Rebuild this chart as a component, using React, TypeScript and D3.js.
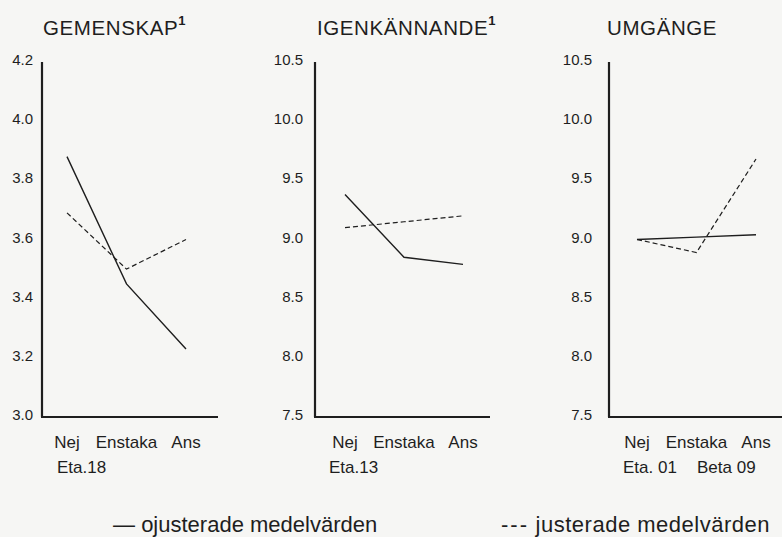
import React from "react";
import * as d3 from "d3";

const categories = ["Nej", "Enstaka", "Ans"];

const titles = ["GEMENSKAP", "IGENKÄNNANDE", "UMGÄNGE"];
const titleSup = ["1", "1", ""];

const gemenskapTicks = [3.0, 3.2, 3.4, 3.6, 3.8, 4.0, 4.2];
const igenTicks = [7.5, 8.0, 8.5, 9.0, 9.5, 10.0, 10.5];
const umgTicks = [7.5, 8.0, 8.5, 9.0, 9.5, 10.0, 10.5];

const gemenskapUnadj = [3.88, 3.45, 3.23];
const gemenskapAdj = [3.69, 3.5, 3.6];
const igenUnadj = [9.38, 8.85, 8.79];
const igenAdj = [9.1, 9.15, 9.2];
const umgUnadj = [9.0, 9.02, 9.04];
const umgAdj = [9.0, 8.89, 9.68];

const subLabels = [["Eta.18"], ["Eta.13"], ["Eta. 01", "Beta 09"]];

const legendMarks = ["—", "---"];
const legendLabels = ["ojusterade medelvärden", "justerade medelvärden"];

const W = 782;
const H = 537;
const TOP = 62;
const BASE = 417;

const panels = [
  { axisX: 42, xEnd: 218, p0: 67, p1: 186, tickRight: 33, titleX: 43, ticks: gemenskapTicks, unadj: gemenskapUnadj, adj: gemenskapAdj, fmt: ".1f", subX: [57] },
  { axisX: 315, xEnd: 490, p0: 345, p1: 463, tickRight: 303, titleX: 317, ticks: igenTicks, unadj: igenUnadj, adj: igenAdj, fmt: ".1f", subX: [329] },
  { axisX: 609, xEnd: 782, p0: 637, p1: 756, tickRight: 592, titleX: 607, ticks: umgTicks, unadj: umgUnadj, adj: umgAdj, fmt: ".1f", subX: [623, 697] },
];

const FONT = "'Liberation Sans', Arial, Helvetica, sans-serif";
const INK = "#1e1e1e";

export default function App() {
  return (
    <svg width={W} height={H} style={{ position: "absolute", left: 0, top: 0, background: "#f6f6f4" }} fontFamily={FONT}>
      <rect x={0} y={0} width={W} height={H} fill="#f6f6f4" />
      {panels.map((p, i) => {
        const y = d3.scaleLinear().domain([p.ticks[0], p.ticks[p.ticks.length - 1]]).range([BASE, TOP]);
        const x = d3.scalePoint<string>().domain(categories).range([p.p0, p.p1]);
        const line = d3
          .line<number>()
          .x((_, k) => x(categories[k]) as number)
          .y((v) => y(v));
        const fmt = d3.format(p.fmt);
        return (
          <g key={i}>
            <text x={p.titleX} y={35} fontSize={20.5} fill={INK} letterSpacing={0.6}>
              {titles[i]}
              {titleSup[i] && (
                <tspan dy={-10} fontSize={13} fontWeight="bold">
                  {titleSup[i]}
                </tspan>
              )}
            </text>
            {p.ticks.map((t) => (
              <text key={t} x={p.tickRight} y={y(t) + 3} fontSize={15} textAnchor="end" fill={INK}>
                {fmt(t)}
              </text>
            ))}
            <line x1={p.axisX} x2={p.axisX} y1={TOP} y2={BASE} stroke={INK} strokeWidth={2.2} />
            <line x1={p.axisX - 1} x2={p.xEnd} y1={BASE} y2={BASE} stroke={INK} strokeWidth={2.2} />
            <path d={line(p.unadj) || ""} fill="none" stroke={INK} strokeWidth={1.4} />
            <path d={line(p.adj) || ""} fill="none" stroke={INK} strokeWidth={1.2} strokeDasharray="5,3" />
            {categories.map((c) => (
              <text key={c} x={x(c)} y={448} fontSize={17} textAnchor="middle" fill={INK}>
                {c}
              </text>
            ))}
            {subLabels[i].map((s, k) => (
              <text key={s} x={p.subX[k]} y={473} fontSize={17} fill={INK}>
                {s}
              </text>
            ))}
          </g>
        );
      })}
      <text x={113} y={532} fontSize={22} fill={INK}>
        <tspan>{legendMarks[0]}</tspan>
        <tspan> {legendLabels[0]}</tspan>
      </text>
      <text x={501} y={532} fontSize={22} fill={INK}>
        <tspan letterSpacing={2}>{legendMarks[1]}</tspan>
        <tspan letterSpacing={0.5}> {legendLabels[1]}</tspan>
      </text>
    </svg>
  );
}
